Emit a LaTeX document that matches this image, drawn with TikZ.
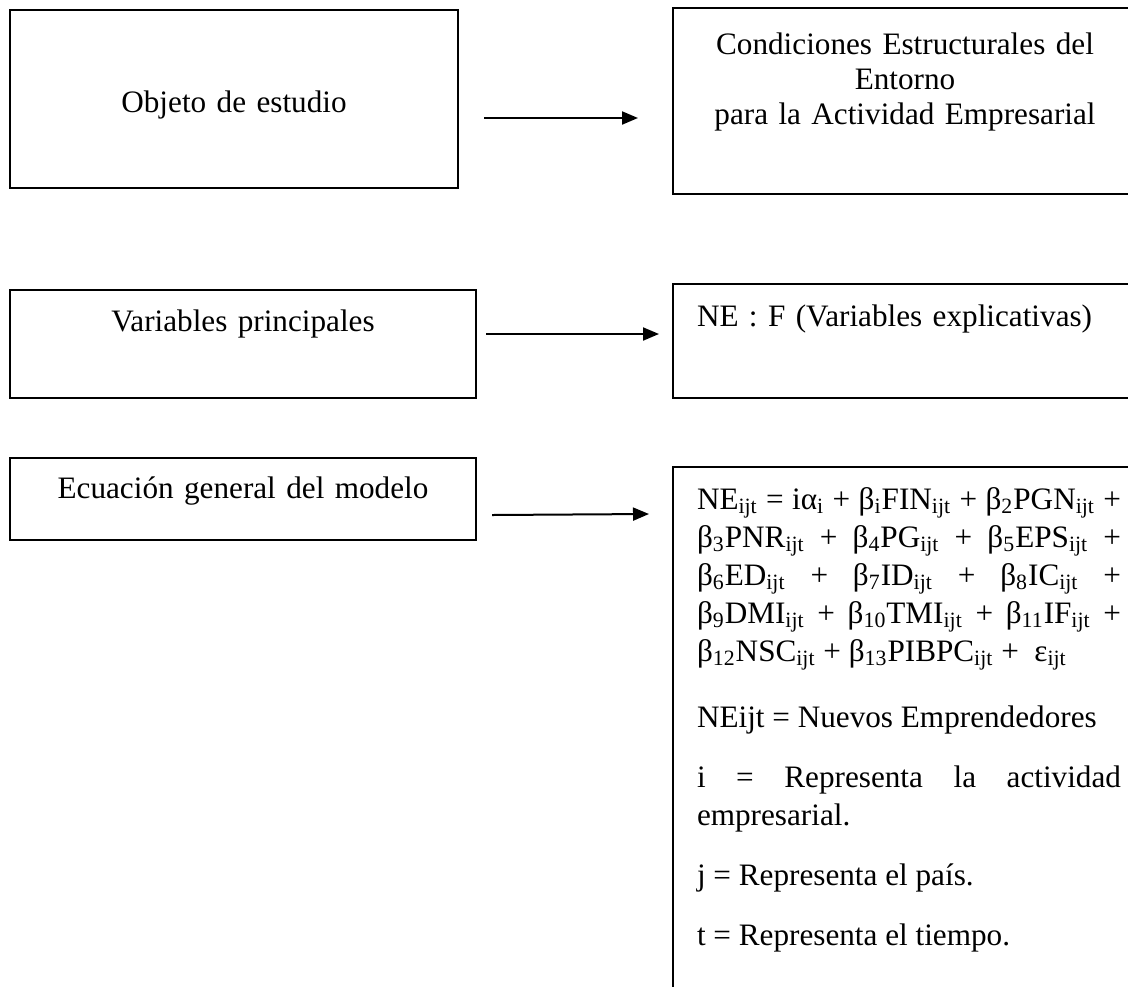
\documentclass[tikz,border=0pt]{standalone}
\usepackage{fontspec}
\setmainfont{Liberation Serif}
\usetikzlibrary{arrows.meta}

\begin{document}
\begin{tikzpicture}[x=0.5pt, y=-0.5pt,
	mynode/.style={rectangle,draw=black,line width=1pt,inner xsep=12pt,inner ysep=0pt,
		anchor=north west,font=\fontsize{15.6}{17.5}\selectfont},
	myarrow/.style={-{Triangle[length=8pt,width=6.5pt]},line width=1pt}]
	\useasboundingbox (0,0) rectangle (1128,986);
	\clip (0,0) rectangle (1128,986);
	% left column
	\node[mynode,text width=200pt,align=center,text height=51pt,text depth=38pt] (objeto) at (9,9) {Objeto de estudio};
	\node[mynode,text width=209pt,align=center,text height=20.5pt,text depth=33.5pt] (variables) at (9,289) {Variables principales};
	\node[mynode,text width=209pt,align=center,text height=20pt,text depth=21pt] (ecuacion) at (9,457) {Ecuación general del modelo};
	% right column
	\node[mynode,text width=208pt,align=center,text height=23pt,text depth=70pt] (condiciones) at (672,7)
		{Condiciones Estructurales del\\ Entorno\\ para la Actividad Empresarial};
	\node[mynode,text width=210pt,align=left,text height=21pt,text depth=36pt] (funcion) at (672,283) {NE : F (Variables explicativas)};
	\node[mynode,text width=212pt,align=justify,text height=21pt,text depth=250pt,
		font=\fontsize{15.6}{19}\selectfont] (modelo) at (672,466) {\setlength{\parskip}{11pt}%
		NE\textsubscript{ijt} = iα\textsubscript{i} + β\textsubscript{i}FIN\textsubscript{ijt} + β\textsubscript{2}PGN\textsubscript{ijt} +\linebreak
		β\textsubscript{3}PNR\textsubscript{ijt} + β\textsubscript{4}PG\textsubscript{ijt} + β\textsubscript{5}EPS\textsubscript{ijt} +\linebreak
		β\textsubscript{6}ED\textsubscript{ijt} + β\textsubscript{7}ID\textsubscript{ijt} + β\textsubscript{8}IC\textsubscript{ijt} +\linebreak
		β\textsubscript{9}DMI\textsubscript{ijt} + β\textsubscript{10}TMI\textsubscript{ijt} + β\textsubscript{11}IF\textsubscript{ijt} +\linebreak
		β\textsubscript{12}NSC\textsubscript{ijt} + β\textsubscript{13}PIBPC\textsubscript{ijt} + \ ε\textsubscript{ijt}\par\vspace{3pt}
		NEijt = Nuevos Emprendedores\par
		i = Representa la actividad\linebreak empresarial.\par
		j = Representa el país.\par
		t = Representa el tiempo.};
	% arrows
	\draw[myarrow] ([xshift=12.5pt,yshift=-9.5pt]objeto.east) -- ([xshift=-17pt,yshift=-8.5pt]condiciones.west);
	\draw[myarrow] ([xshift=4.5pt,yshift=5pt]variables.east) -- ([xshift=-6.5pt,yshift=3.5pt]funcion.west);
	\draw[myarrow] ([xshift=7.5pt,yshift=-8pt]ecuacion.east) -- ([xshift=-11.5pt,yshift=-24pt]modelo.north west);
\end{tikzpicture}
\end{document}
